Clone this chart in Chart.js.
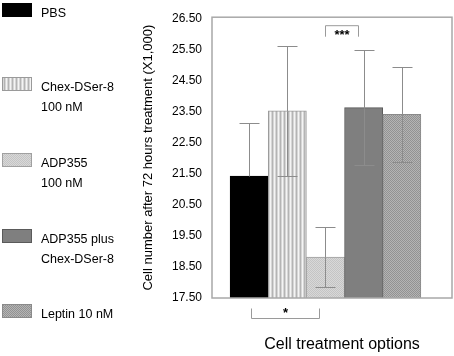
<!DOCTYPE html>
<html>
<head>
<meta charset="utf-8">
<script src="https://cdn.jsdelivr.net/npm/chart.js@4/dist/chart.umd.min.js"></script>
<style>
  html, body { margin: 0; padding: 0; background: #fff; }
  #wrap { width: 454px; height: 356px; }
</style>
</head>
<body>
<div id="wrap"><canvas id="cellChart" width="454" height="356"></canvas></div>
<script>
// data
const groups = ['PBS', 'Chex-DSer-8 100 nM', 'ADP355 100 nM', 'ADP355 plus Chex-DSer-8', 'Leptin 10 nM'];
const legendLines = [['PBS'], ['Chex-DSer-8', '100 nM'], ['ADP355', '100 nM'], ['ADP355 plus', 'Chex-DSer-8'], ['Leptin 10 nM']];
const cellCounts = [21.43, 23.54, 18.82, 23.64, 23.43];
const errHigh = [23.14, 25.63, 19.78, 25.49, 24.96];
const errLow = [null, 21.45, 17.86, 21.79, 21.90]; // PBS lower whisker hidden by the black bar
const yTicks = [17.5, 18.5, 19.5, 20.5, 21.5, 22.5, 23.5, 24.5, 25.5, 26.5];
const xTitle = 'Cell treatment options';
const yTitle = 'Cell number after 72 hours treatment (X1,000)';
// significance brackets: [from bar, to bar, label, side]
const sigBrackets = [[0, 2, '*', 'below'], [2, 3, '***', 'above']];

// fill patterns that mimic the printed hatching
function makePattern(kind) {
    const c = document.createElement('canvas');
    c.width = 4; c.height = 4;
    const g = c.getContext('2d');
    if (kind === 'black') {
        g.fillStyle = '#000'; g.fillRect(0, 0, 4, 4);
    } else if (kind === 'stripes') {
        g.fillStyle = '#d6d6d6'; g.fillRect(0, 0, 4, 4);
        g.fillStyle = '#b4b4b4'; g.fillRect(0, 0, 1, 4);
        g.fillStyle = '#f4f4f4'; g.fillRect(2, 0, 1, 4);
    } else if (kind === 'lightdots') {
        g.fillStyle = '#d8d8d8'; g.fillRect(0, 0, 4, 4);
        g.fillStyle = '#c4c4c4';
        g.fillRect(0, 0, 1, 1); g.fillRect(2, 0, 1, 1);
        g.fillRect(1, 1, 1, 1); g.fillRect(3, 1, 1, 1);
        g.fillRect(0, 2, 1, 1); g.fillRect(2, 2, 1, 1);
        g.fillRect(1, 3, 1, 1); g.fillRect(3, 3, 1, 1);
    } else if (kind === 'gray') {
        g.fillStyle = '#7f7f7f'; g.fillRect(0, 0, 4, 4);
    } else {
        g.fillStyle = '#b4b4b4'; g.fillRect(0, 0, 4, 4);
        g.fillStyle = '#929292';
        g.fillRect(0, 0, 1, 1); g.fillRect(2, 0, 1, 1);
        g.fillRect(1, 1, 1, 1); g.fillRect(3, 1, 1, 1);
        g.fillRect(0, 2, 1, 1); g.fillRect(2, 2, 1, 1);
        g.fillRect(1, 3, 1, 1); g.fillRect(3, 3, 1, 1);
    }
    return g.createPattern(c, 'repeat');
}
const fills = ['black', 'stripes', 'lightdots', 'gray', 'checker'].map(makePattern);
const borders = ['#000', '#9a9a9a', '#a0a0a0', '#5a5a5a', '#8a8a8a'];

const FONT = 'Liberation Sans, Arial, sans-serif';

const errorBars = {
    id: 'errorBars',
    afterDatasetsDraw(chart) {
        const ctx = chart.ctx;
        const y = chart.scales.y;
        const meta = chart.getDatasetMeta(0);
        const area = chart.chartArea;
        ctx.save();
        ctx.strokeStyle = '#8c8c8c';
        ctx.lineWidth = 1;
        meta.data.forEach((bar, i) => {
            const x = Math.round(bar.x) + 0.5;
            const yh = Math.round(y.getPixelForValue(errHigh[i])) + 0.5;
            const ytop = Math.round(bar.y) + 0.5;
            ctx.beginPath();
            ctx.moveTo(x, yh); ctx.lineTo(x, ytop);
            ctx.moveTo(x - 10, yh); ctx.lineTo(x + 10, yh);
            if (errLow[i] !== null) {
                const yl = Math.round(y.getPixelForValue(errLow[i])) + 0.5;
                ctx.moveTo(x, ytop); ctx.lineTo(x, yl);
                ctx.moveTo(x - 10, yl); ctx.lineTo(x + 10, yl);
            }
            ctx.stroke();
        });
        // significance brackets
        ctx.fillStyle = '#000';
        ctx.font = 'bold 13px ' + FONT;
        ctx.textAlign = 'center';
        sigBrackets.forEach(([a, b, label, side]) => {
            let xa = Math.round(meta.data[a].x) + 0.5;
            let xb = Math.round(meta.data[b].x) - 5.5;
            let yb, yleg;
            if (side === 'above') {
                yb = area.top + 8.5; yleg = yb + 11;
                ctx.textBaseline = 'top';
            } else {
                xa += 2;
                yb = area.bottom + 20.5; yleg = yb - 10;
                ctx.textBaseline = 'bottom';
            }
            ctx.strokeStyle = '#9a9a9a';
            ctx.beginPath();
            ctx.moveTo(xa, yleg); ctx.lineTo(xa, yb); ctx.lineTo(xb, yb); ctx.lineTo(xb, yleg);
            ctx.stroke();
            if (side === 'above') ctx.fillText(label, (xa + xb) / 2, yb + 3);
            else ctx.fillText(label, (xa + xb) / 2, yb + 1);
        });
        // plot frame
        ctx.strokeStyle = '#a8a8a8';
        ctx.lineWidth = 1.5;
        ctx.strokeRect(area.left, area.top, area.right - area.left, area.bottom - area.top);
        // x axis title
        ctx.fillStyle = '#000';
        ctx.font = '16px ' + FONT;
        ctx.textBaseline = 'middle';
        ctx.fillText(xTitle, 342, 345);
        ctx.restore();
    }
};

const sideLegend = {
    id: 'sideLegend',
    afterDraw(chart) {
        const ctx = chart.ctx;
        const tops = [3, 77, 153, 229, 304];
        ctx.save();
        ctx.font = '12.5px ' + FONT;
        ctx.textAlign = 'left';
        ctx.textBaseline = 'middle';
        legendLines.forEach((lines, i) => {
            ctx.fillStyle = fills[i];
            ctx.fillRect(2, tops[i], 30, 14);
            ctx.strokeStyle = borders[i];
            ctx.lineWidth = 1;
            ctx.strokeRect(2.5, tops[i] + 0.5, 29, 13);
            ctx.fillStyle = '#000';
            lines.forEach((t, k) => ctx.fillText(t, 41, tops[i] + 11 + k * 19.5));
        });
        ctx.restore();
    }
};

new Chart(document.getElementById('cellChart'), {
    type: 'bar',
    data: {
        datasets: [{
            data: cellCounts.map((v, i) => ({ x: i, y: v })),
            backgroundColor: fills,
            borderColor: borders,
            borderWidth: 1,
            barPercentage: 1,
            categoryPercentage: 1
        }]
    },
    options: {
        responsive: false,
        animation: false,
        layout: { padding: { left: 138, right: 2, top: 13, bottom: 58 } },
        plugins: {
            legend: { display: false },
            tooltip: { enabled: false }
        },
        scales: {
            x: {
                type: 'linear',
                min: -0.974,
                max: 5.316,
                offset: false,
                grid: { display: false, drawTicks: false },
                border: { display: false },
                ticks: { display: false },
                afterFit: (axis) => { axis.height = 0; }
            },
            y: {
                min: 17.5,
                max: 26.56,
                afterBuildTicks: (axis) => { axis.ticks = yTicks.map(v => ({ value: v })); },
                afterFit: (axis) => { axis.width = 74; },
                grid: { display: false, drawTicks: false },
                border: { display: false },
                ticks: {
                    padding: 10,
                    color: '#000',
                    font: { family: FONT, size: 12 },
                    callback: (v) => Number(v).toFixed(2)
                },
                title: {
                    display: true,
                    text: yTitle,
                    font: { family: FONT, size: 13 },
                    color: '#000',
                    padding: { top: 3, bottom: 0 }
                }
            }
        }
    },
    plugins: [errorBars, sideLegend]
});
</script>
</body>
</html>
